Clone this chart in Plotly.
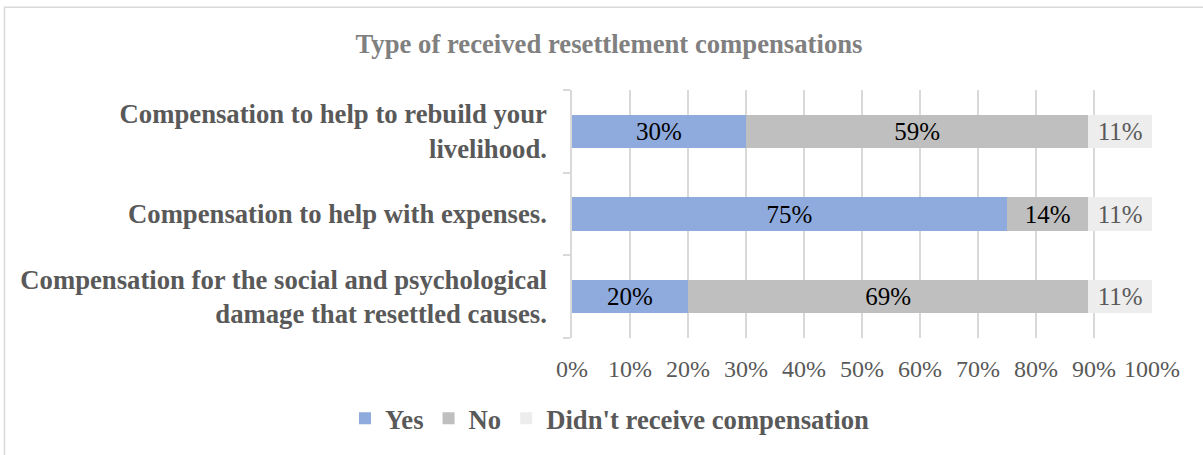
import plotly.graph_objects as go

# Survey results: type of resettlement compensation received
categories = [
    "Compensation for the social and psychological<br>damage that resettled causes.",
    "Compensation to help with expenses.",
    "Compensation to help to rebuild your<br>livelihood.",
]
yes_vals = [20, 75, 30]
no_vals = [69, 14, 59]
none_vals = [11, 11, 11]
x_ticks = [0, 10, 20, 30, 40, 50, 60, 70, 80, 90, 100]
x_tick_labels = [f"{v}%" for v in x_ticks]

SERIF = "Liberation Serif, Times New Roman, serif"

series = [
    ("Yes", yes_vals, "#8faadc", "#000000"),
    ("No", no_vals, "#bfbfbf", "#000000"),
    ("Didn't receive compensation", none_vals, "#ededed", "#595959"),
]

fig = go.Figure()
for name, vals, color, tcolor in series:
    fig.add_trace(go.Bar(
        name=name,
        y=categories,
        x=vals,
        orientation="h",
        marker=dict(color=color, line=dict(width=0)),
        text=[f"{v}%" for v in vals],
        textposition="inside",
        insidetextanchor="middle",
        textangle=0,
        constraintext="none",
        textfont=dict(family=SERIF, size=25, color=tcolor),
        width=0.4,
    ))

# Plot area in pixels: x 572..1152, y 90..340
L, R, T, B = 572, 51, 90, 115
W, H = 1203, 455
pw, ph = W - L - R, H - T - B

def px_to_paper_x(px):
    return (px - L) / pw

def px_to_paper_y(py):
    return (H - B - py) / ph

fig.update_layout(
    width=W, height=H,
    margin=dict(l=L, r=R, t=T, b=B),
    barmode="stack",
    plot_bgcolor="white",
    paper_bgcolor="white",
    uniformtext=dict(minsize=25, mode="show"),
    title=dict(
        text="<b>Type of received resettlement compensations</b>",
        font=dict(family=SERIF, size=26.7, color="#808080"),
        x=609 / W, xanchor="center",
        y=1 - 44 / H, yanchor="middle",
    ),
    xaxis=dict(
        range=[0, 100],
        tickvals=x_ticks,
        ticktext=x_tick_labels,
        showgrid=True,
        gridcolor="#d9d9d9",
        gridwidth=1.5,
        zeroline=False,
        showline=False,
        ticks="",
        ticklabelstandoff=14,
        tickfont=dict(family=SERIF, size=24, color="#595959"),
    ),
    yaxis=dict(
        type="category",
        showline=True,
        linecolor="#d9d9d9",
        linewidth=1.5,
        ticks="outside",
        tickson="boundaries",
        ticklen=7,
        tickcolor="#d9d9d9",
        tickwidth=1.5,
        ticklabelstandoff=18,
        showgrid=False,
        tickfont=dict(family=SERIF, size=26.7, color="#595959", weight="bold"),
    ),
    legend=dict(
        orientation="h",
        x=px_to_paper_x(610), xanchor="center",
        y=px_to_paper_y(421), yanchor="middle",
        font=dict(family=SERIF, size=26.7, color="#595959", weight="bold"),
        itemwidth=30,
        traceorder="normal",
    ),
    showlegend=True,
    shapes=[
        dict(
            type="rect", xref="paper", yref="paper",
            x0=px_to_paper_x(4.5), x1=px_to_paper_x(1230),
            y0=px_to_paper_y(480), y1=px_to_paper_y(6.5),
            line=dict(color="#d9d9d9", width=1.5),
            fillcolor="rgba(0,0,0,0)",
            layer="below",
        )
    ],
)

fig.write_html("out.html")
